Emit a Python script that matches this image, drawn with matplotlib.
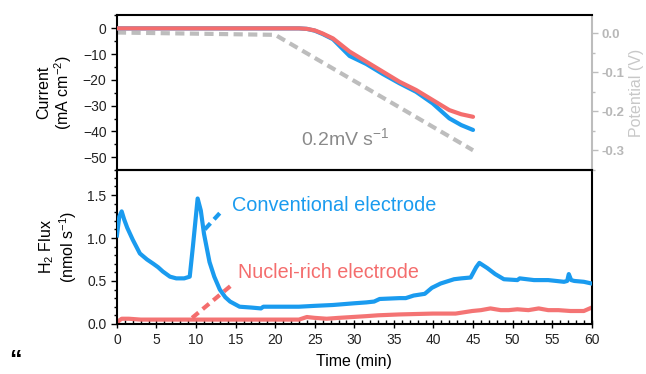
import matplotlib
matplotlib.use("Agg")
import matplotlib.pyplot as plt
from matplotlib.ticker import MultipleLocator, FormatStrFormatter

plt.rcParams['font.family'] = ['Liberation Sans', 'DejaVu Sans']
plt.rcParams['mathtext.default'] = 'regular'

# --- data ---
# top panel: current density during the potential sweep
t_cur = [0, 23, 24, 25, 26, 27.3, 29.4, 31.5, 33.6, 35.7, 37.8, 39.9, 42, 43.5, 45]
cur_conv = [0, 0, -0.2, -0.9, -2.2, -4.2, -10.7, -13.8, -17.7, -21.3, -24.6, -29.1, -34.9, -37.5, -39.4]
cur_nuc = [0, 0, -0.2, -0.8, -2.0, -3.9, -9.0, -12.9, -16.8, -20.7, -23.9, -27.8, -31.7, -33.3, -34.3]

t_pot = [0, 20, 45]
pot = [0.002, -0.004, -0.30]

# bottom panel: H2 flux
t_conv = [0, 0.3, 0.6, 0.9, 1.3, 2, 2.9, 3.8, 4.6, 5.2, 5.8, 6.7, 7.5, 8.5, 9.2, 9.6,
          10.2, 10.6, 11.0, 11.7, 12.3, 13.0, 13.7, 14.3, 15.5, 17, 18.2, 18.5, 20, 23,
          25, 27.3, 30, 31.5, 32.5, 33.2, 35.7, 36.5, 37.5, 38.9, 39.8, 40.9, 42.6, 43.5,
          44.7, 45.4, 45.8, 46.8, 47.8, 48.9, 50.6, 50.9, 52.7, 54.5, 56.5, 56.9, 57.1,
          57.4, 57.8, 59, 60]
flux_conv = [1.03, 1.25, 1.31, 1.22, 1.12, 0.98, 0.82, 0.75, 0.70, 0.66, 0.61, 0.55, 0.53,
             0.53, 0.55, 0.9, 1.46, 1.32, 1.05, 0.72, 0.55, 0.40, 0.31, 0.26, 0.2, 0.19,
             0.18, 0.2, 0.2, 0.2, 0.21, 0.22, 0.24, 0.25, 0.26, 0.29, 0.30, 0.30, 0.33,
             0.35, 0.42, 0.47, 0.52, 0.53, 0.54, 0.66, 0.71, 0.65, 0.58, 0.52, 0.51, 0.53,
             0.51, 0.51, 0.49, 0.50, 0.58, 0.51, 0.50, 0.49, 0.47]

t_nuc = [0, 0.3, 0.6, 1.5, 3, 5, 9, 14, 20, 23, 24, 25, 26.5, 28, 31.5, 33, 35.7, 39.9,
         42.8, 44.9, 46, 47.2, 48.5, 49.5, 50.6, 52, 53.3, 54.5, 55.8, 57.3, 59, 60]
flux_nuc = [0.01, 0.04, 0.06, 0.06, 0.05, 0.05, 0.05, 0.05, 0.05, 0.05, 0.08, 0.07, 0.06,
            0.07, 0.09, 0.10, 0.11, 0.12, 0.12, 0.15, 0.16, 0.18, 0.16, 0.16, 0.17, 0.16,
            0.18, 0.16, 0.16, 0.15, 0.15, 0.19]

# connector lines from curves to labels
conv_link_t, conv_link_f = [11.1, 13.4], [1.10, 1.33]
nuc_link_t, nuc_link_f = [9.5, 14.6], [0.07, 0.46]

blue = '#1a9bef'
red = '#f46d6d'
grey = '#bdbdbd'
dark = '#222222'

fig = plt.figure(figsize=(6.46, 3.74), dpi=100)
ax1 = fig.add_axes([0.181, 0.545, 0.735, 0.415])
ax2 = fig.add_axes([0.181, 0.134, 0.735, 0.411], sharex=ax1)
axp = ax1.twinx()

# top panel
ax1.plot(t_cur, cur_conv, color=blue, lw=3, solid_capstyle='round', zorder=3)
ax1.plot(t_cur, cur_nuc, color=red, lw=3, solid_capstyle='round', zorder=4)
axp.plot(t_pot, pot, color=grey, lw=3, dashes=(2.2, 1.3))
ax1.set_zorder(axp.get_zorder() + 1)
ax1.patch.set_visible(False)

ax1.set_xlim(0, 60)
ax1.set_ylim(-55, 5.2)
axp.set_ylim(-0.351, 0.047)
ax1.yaxis.set_major_locator(MultipleLocator(10))
ax1.yaxis.set_minor_locator(MultipleLocator(5))
ax1.tick_params(axis='y', which='major', direction='out', length=4, width=1,
                labelsize=10, labelcolor=dark)
ax1.tick_params(axis='y', which='minor', direction='out', length=2, width=1)
ax1.tick_params(axis='x', which='both', bottom=False, labelbottom=False)
ax1.spines['right'].set_visible(False)
ax1.set_ylabel('Current\n(mA cm$^{-2}$)', fontsize=11.5, linespacing=1.1, labelpad=6)

axp.yaxis.set_major_locator(MultipleLocator(0.1))
axp.yaxis.set_minor_locator(MultipleLocator(0.05))
axp.yaxis.set_major_formatter(FormatStrFormatter('%.1f'))
axp.tick_params(axis='y', which='major', direction='out', length=4, width=1,
                color=grey, labelcolor='#b8b8b8', labelsize=9.5, pad=3)
axp.tick_params(axis='y', which='minor', direction='out', length=2, width=1, color=grey)
for lbl in axp.get_yticklabels():
    lbl.set_fontweight('bold')
axp.spines['right'].set_color(grey)
axp.spines['right'].set_linewidth(1.5)
for s in ['top', 'left', 'bottom']:
    axp.spines[s].set_visible(False)
axp.set_ylabel('Potential (V)', color='#c8c8c8', fontsize=11.5, labelpad=3)

ax1.text(23.3, -42.5, '0.2mV s$^{-1}$', color='#8a8a8a', fontsize=14, va='center', ha='left')

# bottom panel
ax2.plot(t_conv, flux_conv, color=blue, lw=3, zorder=3)
ax2.plot(t_nuc, flux_nuc, color=red, lw=3, zorder=2, alpha=0.95)
ax2.plot(conv_link_t, conv_link_f, color=blue, lw=3, dashes=(2, 1.3))
ax2.plot(nuc_link_t, nuc_link_f, color=red, lw=3, dashes=(2, 1.3))
ax2.text(14.6, 1.38, 'Conventional electrode', color=blue, fontsize=14.3, va='center', ha='left')
ax2.text(15.3, 0.60, 'Nuclei-rich electrode', color=red, fontsize=14.2, va='center', ha='left')

ax2.set_ylim(0, 1.79)
ax2.xaxis.set_major_locator(MultipleLocator(5))
ax2.xaxis.set_minor_locator(MultipleLocator(1))
ax2.yaxis.set_major_locator(MultipleLocator(0.5))
ax2.yaxis.set_minor_locator(MultipleLocator(0.1))
ax2.yaxis.set_major_formatter(FormatStrFormatter('%.1f'))
ax2.tick_params(axis='x', which='major', direction='inout', length=6, width=1,
                labelsize=10, labelcolor=dark)
ax2.tick_params(axis='x', which='minor', direction='in', length=3, width=1)
ax2.tick_params(axis='y', which='major', direction='out', length=4, width=1,
                labelsize=10, labelcolor=dark)
ax2.tick_params(axis='y', which='minor', direction='out', length=2, width=1)
ax2.set_ylabel('H$_2$ Flux\n(nmol s$^{-1}$)', fontsize=11.5, linespacing=1.1, labelpad=6)
ax2.set_xlabel('Time (min)', fontsize=11.5, labelpad=5)

for ax in (ax1, ax2):
    for s in ax.spines.values():
        s.set_linewidth(1.5)

# stray quotation mark in the lower left corner of the original
fig.text(0.014, 0.004, '\u201c', fontsize=18, fontweight='bold', color='black',
         ha='left', va='bottom')

fig.savefig('out.png', dpi=100)
